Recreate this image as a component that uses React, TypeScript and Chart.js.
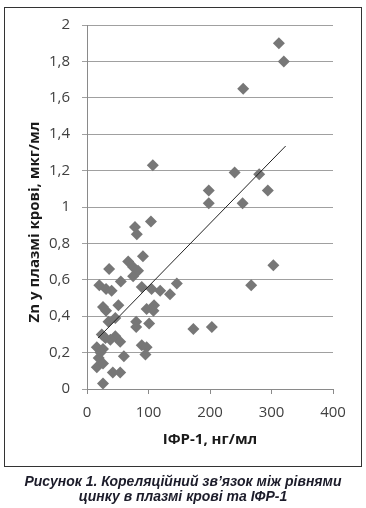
import React, { useEffect, useRef } from "react";
import { Chart, registerables } from "chart.js";

Chart.register(...registerables);

// IGF-1 (ng/ml) vs Zn (mcg/ml)
const igfValues = [
  312, 320, 254, 107, 240, 280, 294, 198, 198, 253, 303, 267, 146, 135, 119, 173, 203,
  104, 78, 81, 91, 67, 75, 83, 75, 36, 55, 20, 31, 40, 89, 105, 26, 31, 51, 97, 109, 108,
  46, 35, 80, 80, 101, 24, 46, 54, 38, 16, 26, 60, 89, 97, 95, 19, 16, 26, 42, 54, 26, 30, 22,
];
const znValues = [
  1.9, 1.8, 1.65, 1.23, 1.19, 1.18, 1.09, 1.09, 1.02, 1.02, 0.68, 0.57, 0.58, 0.52, 0.54, 0.33, 0.34,
  0.92, 0.89, 0.85, 0.73, 0.7, 0.67, 0.65, 0.62, 0.66, 0.59, 0.57, 0.55, 0.54, 0.56, 0.55, 0.45, 0.43, 0.46, 0.44, 0.46, 0.43,
  0.39, 0.37, 0.37, 0.34, 0.36, 0.3, 0.29, 0.26, 0.27, 0.23, 0.22, 0.18, 0.24, 0.23, 0.19, 0.17, 0.12, 0.14, 0.09, 0.09, 0.03, 0.28, 0.2,
];
const trendX = [18, 323];
const trendY = [0.28, 1.335];
const yTitle = "Zn у плазмі крові, мкг/мл";
const xTitle = "ІФР-1, нг/мл";
const captionLines = ["Рисунок 1. Кореляційний зв’язок між рівнями", "цинку в плазмі крові та ІФР-1"];

const FONT = "'Open Sans', sans-serif";

export default function App() {
  const ref = useRef<HTMLCanvasElement>(null);
  useEffect(() => {
    if (!ref.current) return;
    const yTitlePlugin = {
      id: "yTitle",
      afterDraw(chart: any) {
        const ctx = chart.ctx;
        ctx.save();
        ctx.translate(35, 222);
        ctx.rotate(-Math.PI / 2);
        ctx.font = `bold 15px ${FONT}`;
        ctx.fillStyle = "#1a1a1a";
        ctx.textAlign = "center";
        ctx.textBaseline = "middle";
        ctx.fillText(yTitle, 0, 0);
        ctx.restore();
      },
    };
    const chart = new Chart(ref.current, {
      type: "scatter",
      data: {
        datasets: [
          {
            type: "line",
            data: trendX.map((x, i) => ({ x, y: trendY[i] })),
            borderColor: "#222",
            borderWidth: 1,
            pointRadius: 0,
            fill: false,
          } as any,
          {
            data: igfValues.map((x, i) => ({ x, y: znValues[i] })),
            pointStyle: "rectRot",
            pointRadius: 6,
            backgroundColor: "#777777",
            borderWidth: 0,
          },
        ],
      },
      options: {
        animation: false,
        responsive: false,
        layout: { padding: { left: 0, top: 25, right: 33, bottom: 0 } },
        plugins: { legend: { display: false }, tooltip: { enabled: false } },
        scales: {
          x: {
            type: "linear",
            min: 0,
            max: 400,
            ticks: { stepSize: 100, padding: 10, color: "#404040", font: { family: FONT, size: 15 } },
            grid: { drawOnChartArea: false, drawTicks: true, tickLength: 5, color: "#8a8a8a" },
            border: { color: "#8a8a8a", width: 1 },
            title: {
              display: true,
              text: xTitle,
              color: "#1a1a1a",
              font: { family: FONT, size: 15, weight: "bold" },
              padding: { top: 0, bottom: 21 },
            },
            afterFit(scale: any) {
              scale.height = 81;
            },
          },
          y: {
            min: 0,
            max: 2,
            ticks: {
              stepSize: 0.2,
              padding: 12,
              color: "#404040",
              font: { family: FONT, size: 15 },
              callback: (v: any) => (Math.round(Number(v) * 10) / 10).toString().replace(".", ","),
            },
            grid: { color: "#a0a0a0", tickLength: 5 },
            border: { color: "#8a8a8a", width: 1 },
            afterFit(scale: any) {
              scale.width = 87;
            },
          },
        },
      },
      plugins: [yTitlePlugin],
    });
    return () => chart.destroy();
  }, []);

  return (
    <div style={{ position: "absolute", left: 0, top: 0, width: 366, height: 508, background: "#fff" }}>
      <canvas ref={ref} width={366} height={470} style={{ position: "absolute", left: 0, top: 0, width: 366, height: 470 }} />
      <div
        style={{
          position: "absolute",
          left: 4,
          top: 7,
          width: 356,
          height: 458,
          border: "1.5px solid #333",
          pointerEvents: "none",
        }}
      />
      <div
        style={{
          position: "absolute",
          left: 0,
          top: 474,
          width: 366,
          textAlign: "center",
          fontFamily: "'Liberation Sans', Arial, sans-serif",
          fontWeight: "bold",
          fontStyle: "italic",
          fontSize: 14,
          lineHeight: "15px",
          color: "#1c1c2a",
        }}
      >
        {captionLines.map((l, i) => (
          <div key={i}>{l}</div>
        ))}
      </div>
    </div>
  );
}
